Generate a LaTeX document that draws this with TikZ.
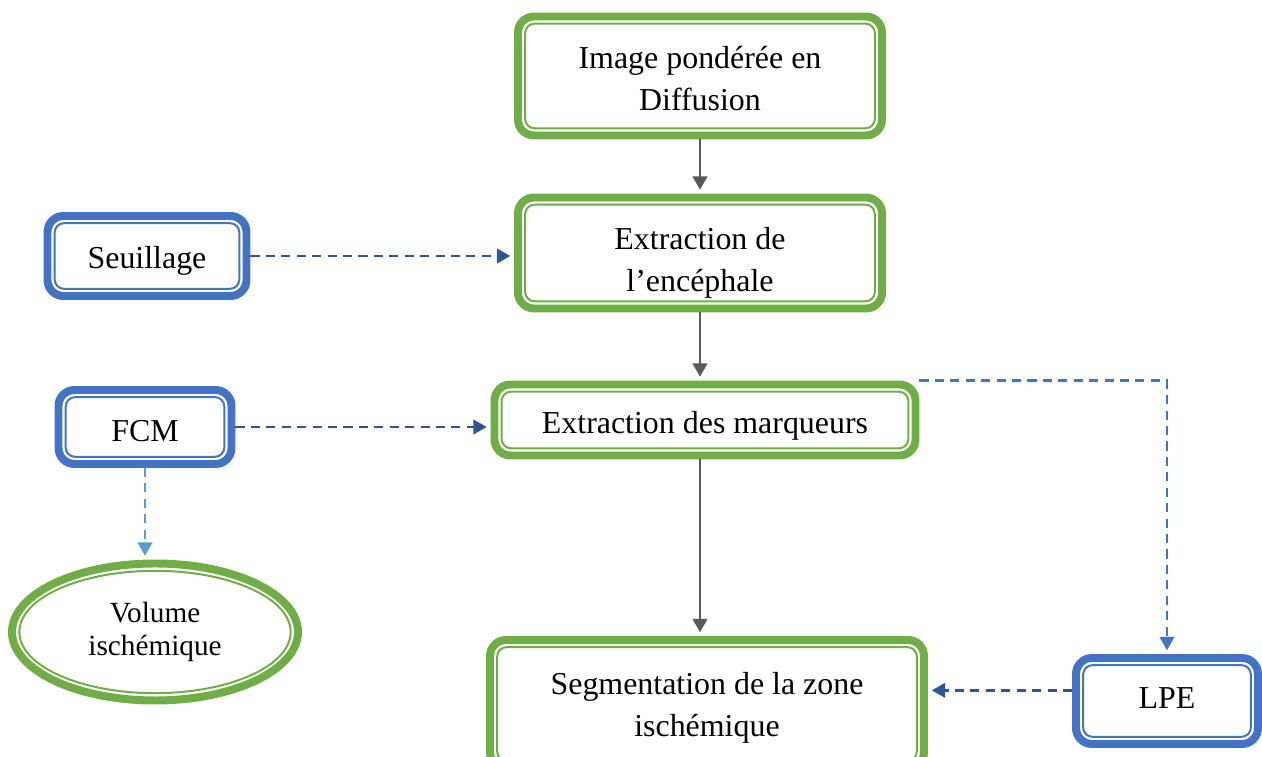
\documentclass[tikz,border=0pt]{standalone}
\usepackage{fontspec}
\setmainfont{Liberation Serif}
\usetikzlibrary{positioning,arrows.meta,shapes.geometric,calc}
\definecolor{leaf}  {HTML}{70AD47}
\definecolor{sky}   {HTML}{4472C4}
\definecolor{navy}  {HTML}{2F5597}
\definecolor{pale}  {HTML}{5B9BD5}
\definecolor{slate} {HTML}{595959}
\newcommand\pxu{0.376pt}
\tikzset{
  >={Triangle[width=5.4pt,length=5pt]},
  every node/.style={font=\fontsize{12}{15.8}\selectfont},
  % --- nodes
  dbl/.style   = {rounded corners=6pt, draw=#1, fill=white, line width=3pt,
                  inner sep=0pt,
                  path picture={\draw[#1, line width=0.75pt, rounded corners=3.5pt]
                    ([shift={(2.7pt,2.7pt)}]path picture bounding box.south west) rectangle
                    ([shift={(-2.7pt,-2.7pt)}]path picture bounding box.north east);}},
  stage/.style = {dbl=leaf},
  tool/.style  = {dbl=sky},
  blob/.style  = {ellipse, draw=leaf, fill=white, line width=3pt, align=center,
                  inner sep=0pt, font=\fontsize{11}{12.6}\selectfont,
                  path picture={\draw[leaf, line width=0.75pt]
                    (path picture bounding box.center) ellipse [x radius=51pt, y radius=23pt];}},
  txt/.style   = {align=center, inner sep=0pt},
  % --- edges
  flow/.style  = {->, line width=1pt, draw=slate, shorten >=1.4pt},
  hint/.style  = {->, line width=0.9pt, draw=navy, dash pattern=on 3.4pt off 2.4pt,
                  shorten >=1.4pt},
}
\begin{document}
\begin{tikzpicture}[x=0.376pt,y=-0.376pt]
  \useasboundingbox (0,0) rectangle (1262,757);

  \node[stage, minimum width=364*\pxu, minimum height=119*\pxu,
        label={[txt, yshift=-3*\pxu]center:{Image pondérée en\\Diffusion}}] (dwi) at (700,76) {};
  \node[stage, minimum width=364*\pxu, minimum height=111*\pxu,
        label={[txt, yshift=-10*\pxu]center:{Extraction de\\l’encéphale}}] (brain) at (700,253) {};
  \node[stage, minimum width=421*\pxu, minimum height=71*\pxu,
        label={[txt, yshift=-6*\pxu]center:{Extraction des marqueurs}}] (mark) at (705,420) {};
  \node[stage, minimum width=434*\pxu, minimum height=128*\pxu,
        label={[txt, yshift=-4*\pxu]center:{Segmentation de la zone\\ischémique}}] (seg) at (707,704) {};

  \node[tool, minimum width=199*\pxu, minimum height=80*\pxu,
        label={[txt, yshift=-5*\pxu]center:{Seuillage}}] (seuil) at (147,256) {};
  \node[tool, minimum width=173*\pxu, minimum height=74*\pxu,
        label={[txt, yshift=-4*\pxu]center:{FCM}}] (fcm) at (145,427) {};
  \node[tool, minimum width=182*\pxu, minimum height=86*\pxu,
        label={[txt, yshift=3*\pxu]center:{LPE}}] (lpe) at (1167,701) {};

  \node[blob, minimum width=286*\pxu, minimum height=137*\pxu] (vol) at (155,632) {Volume\\ischémique};

  % main chain
  \draw[flow] (dwi) -- (brain);
  \draw[flow] (brain) -- (brain |- mark.north);
  \draw[flow] (brain |- mark.south) -- (brain |- seg.north);

  % side inputs
  \draw[hint] (seuil) -- (seuil -| brain.west);
  \draw[hint] (fcm) -- (fcm -| mark.west);
  \draw[hint, draw=pale] (fcm) -- (fcm |- vol.north);
  \draw[hint, draw=sky] (mark.north east) -| (lpe);
  \draw[hint] ([yshift=4pt]lpe.west) -- ([yshift=4pt]lpe.west -| seg.east);
\end{tikzpicture}
\end{document}
